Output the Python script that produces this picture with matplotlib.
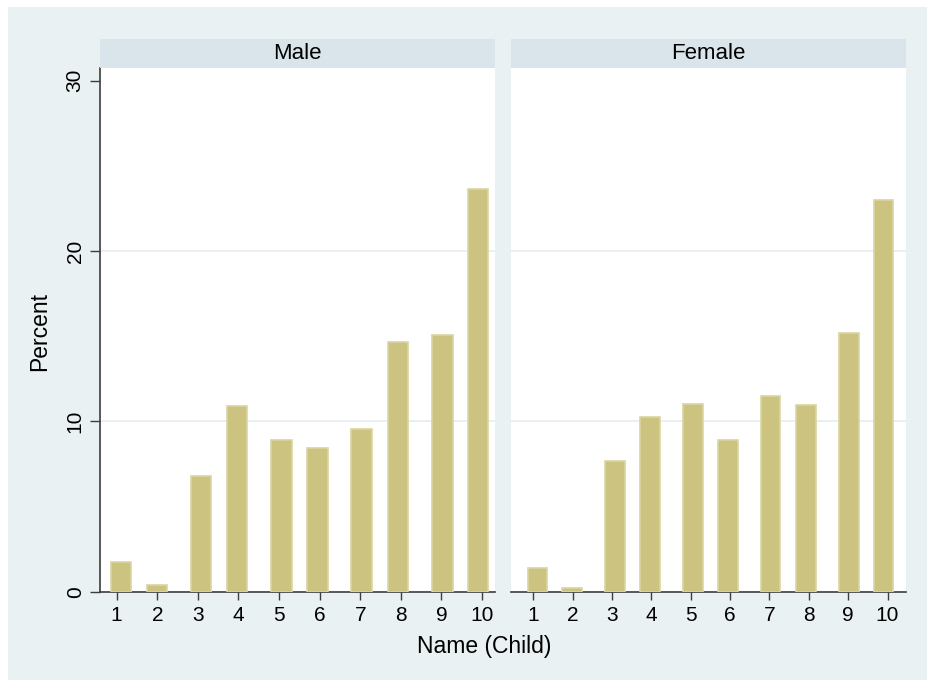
import matplotlib
matplotlib.use("Agg")
import matplotlib.pyplot as plt
from matplotlib.patches import Rectangle

plt.rcParams['font.family'] = ['Liberation Sans', 'DejaVu Sans']

panels = ["Male", "Female"]
bin_centers = [1.11, 1.99, 3.08, 3.965, 5.06, 5.945, 7.03, 7.925, 9.03, 9.895]
male_pct = [1.73, 0.38, 6.79, 10.92, 8.9, 8.43, 9.55, 14.69, 15.1, 23.63]
female_pct = [1.38, 0.2, 7.69, 10.28, 11.04, 8.92, 11.51, 10.98, 15.2, 22.98]
x_ticks = [1, 2, 3, 4, 5, 6, 7, 8, 9, 10]
y_ticks = [0, 10, 20, 30]
grid_vals = [10, 20]
xlabel = "Name (Child)"
ylabel = "Percent"

W, H = 927, 680
fig = plt.figure(figsize=(W / 100, H / 100), dpi=100)
fig.patch.set_facecolor("white")
BG = "#EAF1F3"
STRIP = "#D9E5EB"
BAR = "#CBC37F"
BAR_EDGE = "#DAD5A3"
AX = "#3c3c3c"

fig.add_artist(Rectangle((8 / W, 0), 1 - 8 / W, 1 - 7 / H, transform=fig.transFigure,
                         facecolor=BG, edgecolor="none", zorder=-10))

def fx(px):
    return px / W

def fy(py):
    return 1 - py / H

bottom_px, top_px = 591.7, 68.0
ymax = (bottom_px - top_px) / 17.03
specs = [
    (100, 495, (0.589, 10.32), male_pct, True),
    (511, 906, (0.433, 10.47), female_pct, False),
]

for name, (x0, x1, xl, vals, show_y) in zip(panels, specs):
    ax = fig.add_axes([fx(x0), fy(bottom_px), fx(x1 - x0), (bottom_px - top_px) / H])
    ax.set_facecolor("white")
    ax.bar(bin_centers, vals, width=0.5, color=BAR, edgecolor=BAR_EDGE, linewidth=1.2, zorder=3)
    for g in grid_vals:
        ax.axhline(g, color="#E6EEF0", linewidth=1.2, zorder=1)
    ax.set_xlim(*xl)
    ax.set_ylim(0, ymax)
    ax.set_xticks(x_ticks)
    ax.set_xticklabels([str(t) for t in x_ticks], fontsize=15)
    ax.tick_params(axis="x", direction="out", length=6, width=1, color=AX, pad=4)
    for s in ["top", "right"]:
        ax.spines[s].set_visible(False)
    ax.spines["bottom"].set_color(AX)
    ax.spines["bottom"].set_linewidth(1.2)
    if show_y:
        ax.spines["left"].set_color(AX)
        ax.spines["left"].set_linewidth(1.2)
        ax.set_yticks(y_ticks)
        ax.set_yticklabels([str(t) for t in y_ticks], fontsize=15, rotation=90, va="center")
        ax.tick_params(axis="y", direction="out", length=7, width=1, color=AX, pad=4)
    else:
        ax.spines["left"].set_visible(False)
        ax.set_yticks([])
    # header strip
    strip = fig.add_axes([fx(x0), fy(68.3), fx(x1 - x0), (68.3 - 39) / H])
    strip.set_facecolor(STRIP)
    strip.set_xticks([])
    strip.set_yticks([])
    for s in strip.spines.values():
        s.set_visible(False)
    strip.text(0.5, 0.5, name, ha="center", va="center", fontsize=16, transform=strip.transAxes)

fig.text(fx(484), fy(647), xlabel, ha="center", va="center", fontsize=16.5)
fig.text(fx(40), fy(331), ylabel, ha="center", va="center", fontsize=16.5, rotation=90)

fig.savefig("out.png", dpi=100, facecolor=fig.get_facecolor())
